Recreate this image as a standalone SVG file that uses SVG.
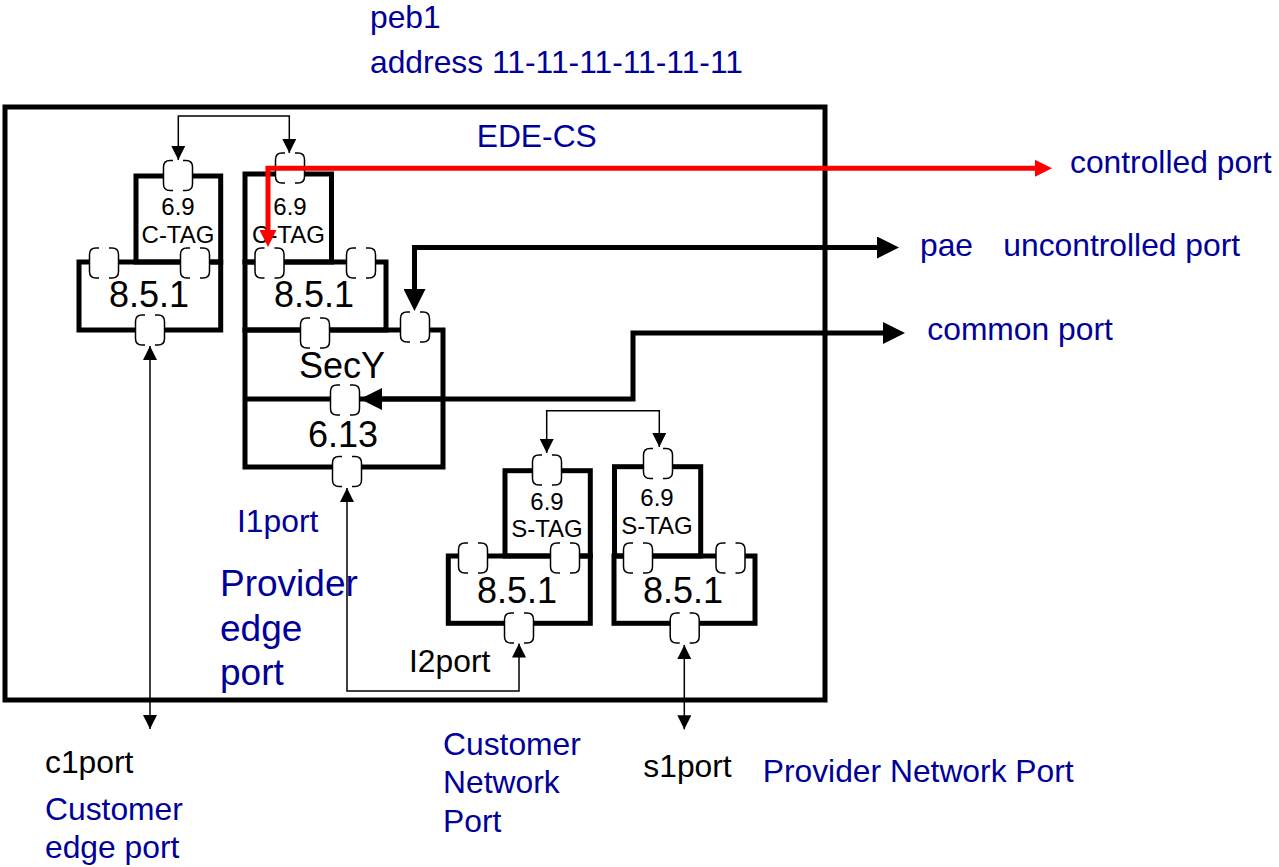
<svg xmlns="http://www.w3.org/2000/svg" width="1279" height="867" viewBox="0 0 1279 867">
<style>
.box{fill:none;stroke:#000;stroke-width:5;stroke-linejoin:miter}
.t{font-family:"Liberation Sans",Arial,sans-serif;fill:#000;text-anchor:middle}
.s{font-size:24px}
.b{font-size:36px}
.lbl{font-family:"Liberation Sans",Arial,sans-serif;font-size:31.8px;fill:#000099}
.blk{fill:#000}
.big{font-size:37px}
.thin{fill:none;stroke:#000;stroke-width:1.5;marker-start:url(#ah);marker-end:url(#ah)}
.thick{fill:none;stroke:#000;stroke-width:5;marker-start:url(#ahb);marker-end:url(#ahb)}
.red{fill:none;stroke:#ff0000;stroke-width:5;marker-start:url(#ahr);marker-end:url(#ahr)}
</style>
<defs>
<marker id="ah" viewBox="0 0 14 14" refX="14" refY="7" markerWidth="14" markerHeight="14" markerUnits="userSpaceOnUse" orient="auto-start-reverse"><path d="M0,0 L14,7 L0,14 Z" fill="#000"/></marker>
<marker id="ahb" viewBox="0 0 22 22" refX="0" refY="11" markerWidth="22" markerHeight="22" markerUnits="userSpaceOnUse" orient="auto-start-reverse"><path d="M0,0 L22,11 L0,22 Z" fill="#000"/></marker>
<marker id="ahr" viewBox="0 0 17 17" refX="0" refY="8.5" markerWidth="17" markerHeight="17" markerUnits="userSpaceOnUse" orient="auto-start-reverse"><path d="M0,0 L17,8.5 L0,17 Z" fill="#ff0000"/></marker>
<g id="port"><rect x="-14.5" y="-15" width="29" height="30" fill="#fff"/><path d="M-5,-15 H-8 Q-14.5,-15 -14.5,-8.5 V8.5 Q-14.5,15 -8,15 H-5 M5,-15 H8 Q14.5,-15 14.5,-8.5 V8.5 Q14.5,15 8,15 H5" fill="none" stroke="#000" stroke-width="1.5"/></g>
</defs>
<rect width="1279" height="867" fill="#fff"/>

<g id="frame-ede-cs">
<rect class="box" x="5" y="107" width="820" height="593"/>
<text class="lbl" x="476.7" y="146.7">EDE-CS</text>
</g>

<g id="node-c1-ctag">
<rect class="box" x="136" y="176" width="84.7" height="86"/>
<rect class="box" x="79" y="262" width="141.7" height="68"/>
<text class="t s" x="178" y="215">6.9</text>
<text class="t s" x="178" y="243">C-TAG</text>
<text class="t b" x="149" y="307">8.5.1</text>
<use href="#port" x="178" y="175.5"/>
<use href="#port" x="104" y="263"/>
<use href="#port" x="195" y="263"/>
<use href="#port" x="150" y="330"/>
</g>

<g id="node-i1-ctag-secy">
<rect class="box" x="245" y="174" width="86.5" height="88"/>
<rect class="box" x="245" y="262" width="141" height="68"/>
<rect class="box" x="245" y="330" width="198" height="137"/>
<line class="box" x1="245" y1="399" x2="443" y2="399"/>
<text class="t s" x="290" y="215">6.9</text>
<text class="t s" x="288.5" y="243">C-TAG</text>
<text class="t b" x="314" y="307">8.5.1</text>
<text class="t b" x="342" y="378">SecY</text>
<text class="t b" x="343" y="446.7">6.13</text>
<use href="#port" x="290" y="168"/>
<use href="#port" x="269.5" y="263"/>
<use href="#port" x="361" y="263"/>
<use href="#port" x="315" y="333"/>
<use href="#port" x="415" y="327"/>
<use href="#port" x="345" y="400"/>
<use href="#port" x="347" y="471.5"/>
</g>

<g id="node-i2-stag">
<rect class="box" x="505" y="470.7" width="85.3" height="85.3"/>
<rect class="box" x="448.3" y="556" width="142" height="67.3"/>
<text class="t s" x="547" y="510">6.9</text>
<text class="t s" x="547" y="537">S-TAG</text>
<text class="t b" x="517" y="603">8.5.1</text>
<use href="#port" x="547" y="470"/>
<use href="#port" x="473" y="558"/>
<use href="#port" x="565" y="558"/>
<use href="#port" x="519" y="628"/>
</g>

<g id="node-s1-stag">
<rect class="box" x="614.5" y="466.7" width="86.2" height="89.3"/>
<rect class="box" x="614" y="556" width="141" height="67.3"/>
<text class="t s" x="657" y="506">6.9</text>
<text class="t s" x="657" y="534">S-TAG</text>
<text class="t b" x="683" y="603">8.5.1</text>
<use href="#port" x="658" y="463.5"/>
<use href="#port" x="638" y="558"/>
<use href="#port" x="730.5" y="558"/>
<use href="#port" x="684.7" y="628"/>
</g>

<g id="connectors">
<path class="thin" d="M178.3,160 V116 H289.3 V153"/>
<path class="thin" d="M546.7,453 V410.7 H659.3 V447"/>
<path class="thin" d="M150,346 V729"/>
<path class="thin" d="M347,488 V691 H519 V643.5"/>
<path class="thin" d="M684.3,645 V729.3"/>
<path class="thick" d="M877,247.5 H414.5 V289"/>
<path class="thick" d="M883,333 H633 V399 H382"/>
<path class="red" d="M1035,168.3 H268 V230"/>
</g>

<g id="labels">
<text class="lbl" x="370" y="28">peb1</text>
<text class="lbl" x="370" y="73">address 11-11-11-11-11-11</text>
<text class="lbl" x="1070" y="173.3">controlled port</text>
<text class="lbl" x="920" y="256">pae</text>
<text class="lbl" x="1003.3" y="256">uncontrolled port</text>
<text class="lbl" x="927.3" y="340">common port</text>
<text class="lbl" x="237" y="531.7">I1port</text>
<text class="lbl big" x="220" y="596">Provider</text>
<text class="lbl big" x="220" y="641">edge</text>
<text class="lbl big" x="220" y="685">port</text>
<text class="lbl blk" x="409" y="671.7">I2port</text>
<text class="lbl blk" x="45" y="773">c1port</text>
<text class="lbl" x="45" y="820">Customer</text>
<text class="lbl" x="45" y="858">edge port</text>
<text class="lbl" x="443" y="755">Customer</text>
<text class="lbl" x="443" y="793">Network</text>
<text class="lbl" x="443" y="831.7">Port</text>
<text class="lbl blk" x="643.3" y="777.3">s1port</text>
<text class="lbl" x="762.7" y="782.3">Provider Network Port</text>
</g>
</svg>
